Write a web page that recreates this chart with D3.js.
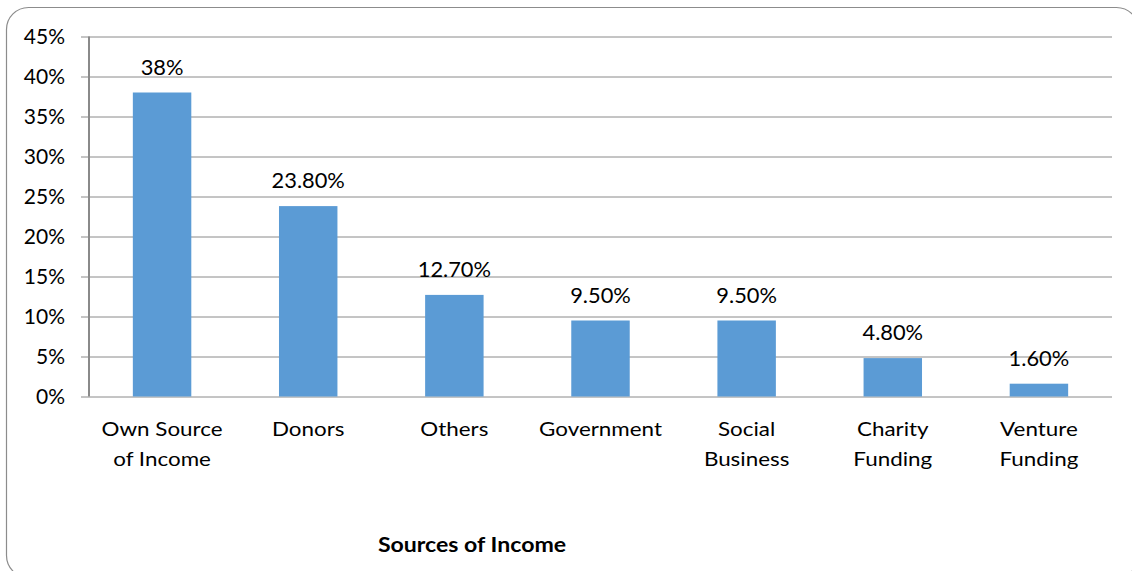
<!DOCTYPE html>
<html>
<head>
<meta charset="utf-8">
<script src="https://cdn.jsdelivr.net/npm/d3@7"></script>
<style>
  html, body { margin: 0; padding: 0; background: #fff; }
  svg { display: block; font-family: Lato, "Open Sans", sans-serif; }
</style>
</head>
<body>
<svg id="chart" width="1132" height="571"></svg>
<script>
// Income sources and their share of total income (%)
const categories = [
  ["Own Source", "of Income"],
  ["Donors"],
  ["Others"],
  ["Government"],
  ["Social", "Business"],
  ["Charity", "Funding"],
  ["Venture", "Funding"]
];
const values = [38, 23.8, 12.7, 9.5, 9.5, 4.8, 1.6];
const valueLabels = ["38%", "23.80%", "12.70%", "9.50%", "9.50%", "4.80%", "1.60%"];
const yTicks = [0, 5, 10, 15, 20, 25, 30, 35, 40, 45];
const xTitle = "Sources of Income";

const svg = d3.select("#chart");
const plot = { left: 89, right: 1112, top: 36.5, bottom: 396.5 };

// Rounded outer frame
svg.append("rect")
  .attr("x", 6.5).attr("y", 7.5)
  .attr("width", 1132).attr("height", 570)
  .attr("rx", 22).attr("ry", 22)
  .attr("fill", "#fff")
  .attr("stroke", "#8c8c8c")
  .attr("stroke-width", 1.2);

const x = d3.scaleBand()
  .domain(d3.range(categories.length))
  .range([plot.left, plot.right])
  .paddingInner(0.6)
  .paddingOuter(0.3);

const y = d3.scaleLinear()
  .domain([0, 45])
  .range([plot.bottom, plot.top]);

// Horizontal gridlines with left ticks and labels
const yAxis = d3.axisLeft(y)
  .tickValues(yTicks)
  .tickSize(-(plot.right - plot.left))
  .tickSizeOuter(0)
  .tickPadding(24)
  .tickFormat(d => d + "%");

const gy = svg.append("g")
  .attr("transform", `translate(${plot.left},0)`)
  .call(yAxis);
gy.select(".domain").remove();
gy.selectAll(".tick line")
  .attr("stroke", "#8a8a8a")
  .attr("stroke-width", 1)
  .attr("x1", -8);
gy.selectAll(".tick text")
  .attr("fill", "#000")
  .attr("font-size", "21px")
  .attr("font-family", "Lato, 'Open Sans', sans-serif");

// Vertical axis line
svg.append("line")
  .attr("x1", plot.left).attr("x2", plot.left)
  .attr("y1", y(45)).attr("y2", y(0))
  .attr("stroke", "#8a8a8a")
  .attr("stroke-width", 2);

// Bars
svg.append("g").selectAll("rect")
  .data(values)
  .join("rect")
  .attr("x", (d, i) => x(i))
  .attr("width", x.bandwidth())
  .attr("y", d => y(d))
  .attr("height", d => y(0) - y(d))
  .attr("fill", "#5b9bd5");

// Value labels above bars
svg.append("g").selectAll("text")
  .data(values)
  .join("text")
  .attr("transform", (d, i) => `translate(${x(i) + x.bandwidth() / 2},${y(d) - 18}) scale(1.04,1)`)
  .attr("text-anchor", "middle")
  .attr("font-size", "21px")
  .attr("fill", "#000")
  .text((d, i) => valueLabels[i]);

// Category labels (wrapped onto two lines), slightly widened
const cat = svg.append("g").selectAll("text")
  .data(categories)
  .join("text")
  .attr("transform", (d, i) => `translate(${x(i) + x.bandwidth() / 2},436) scale(1.12,1)`)
  .attr("text-anchor", "middle")
  .attr("font-size", "20px")
  .attr("fill", "#000");
cat.each(function(lines) {
  const t = d3.select(this);
  lines.forEach((ln, k) => {
    t.append("tspan").attr("x", 0).attr("dy", k === 0 ? 0 : 30).text(ln);
  });
});

// Axis title
svg.append("text")
  .attr("transform", "translate(472,552) scale(1.1,1)")
  .attr("text-anchor", "middle")
  .attr("font-size", "21px")
  .attr("font-weight", "bold")
  .attr("fill", "#000")
  .text(xTitle);
</script>
</body>
</html>
